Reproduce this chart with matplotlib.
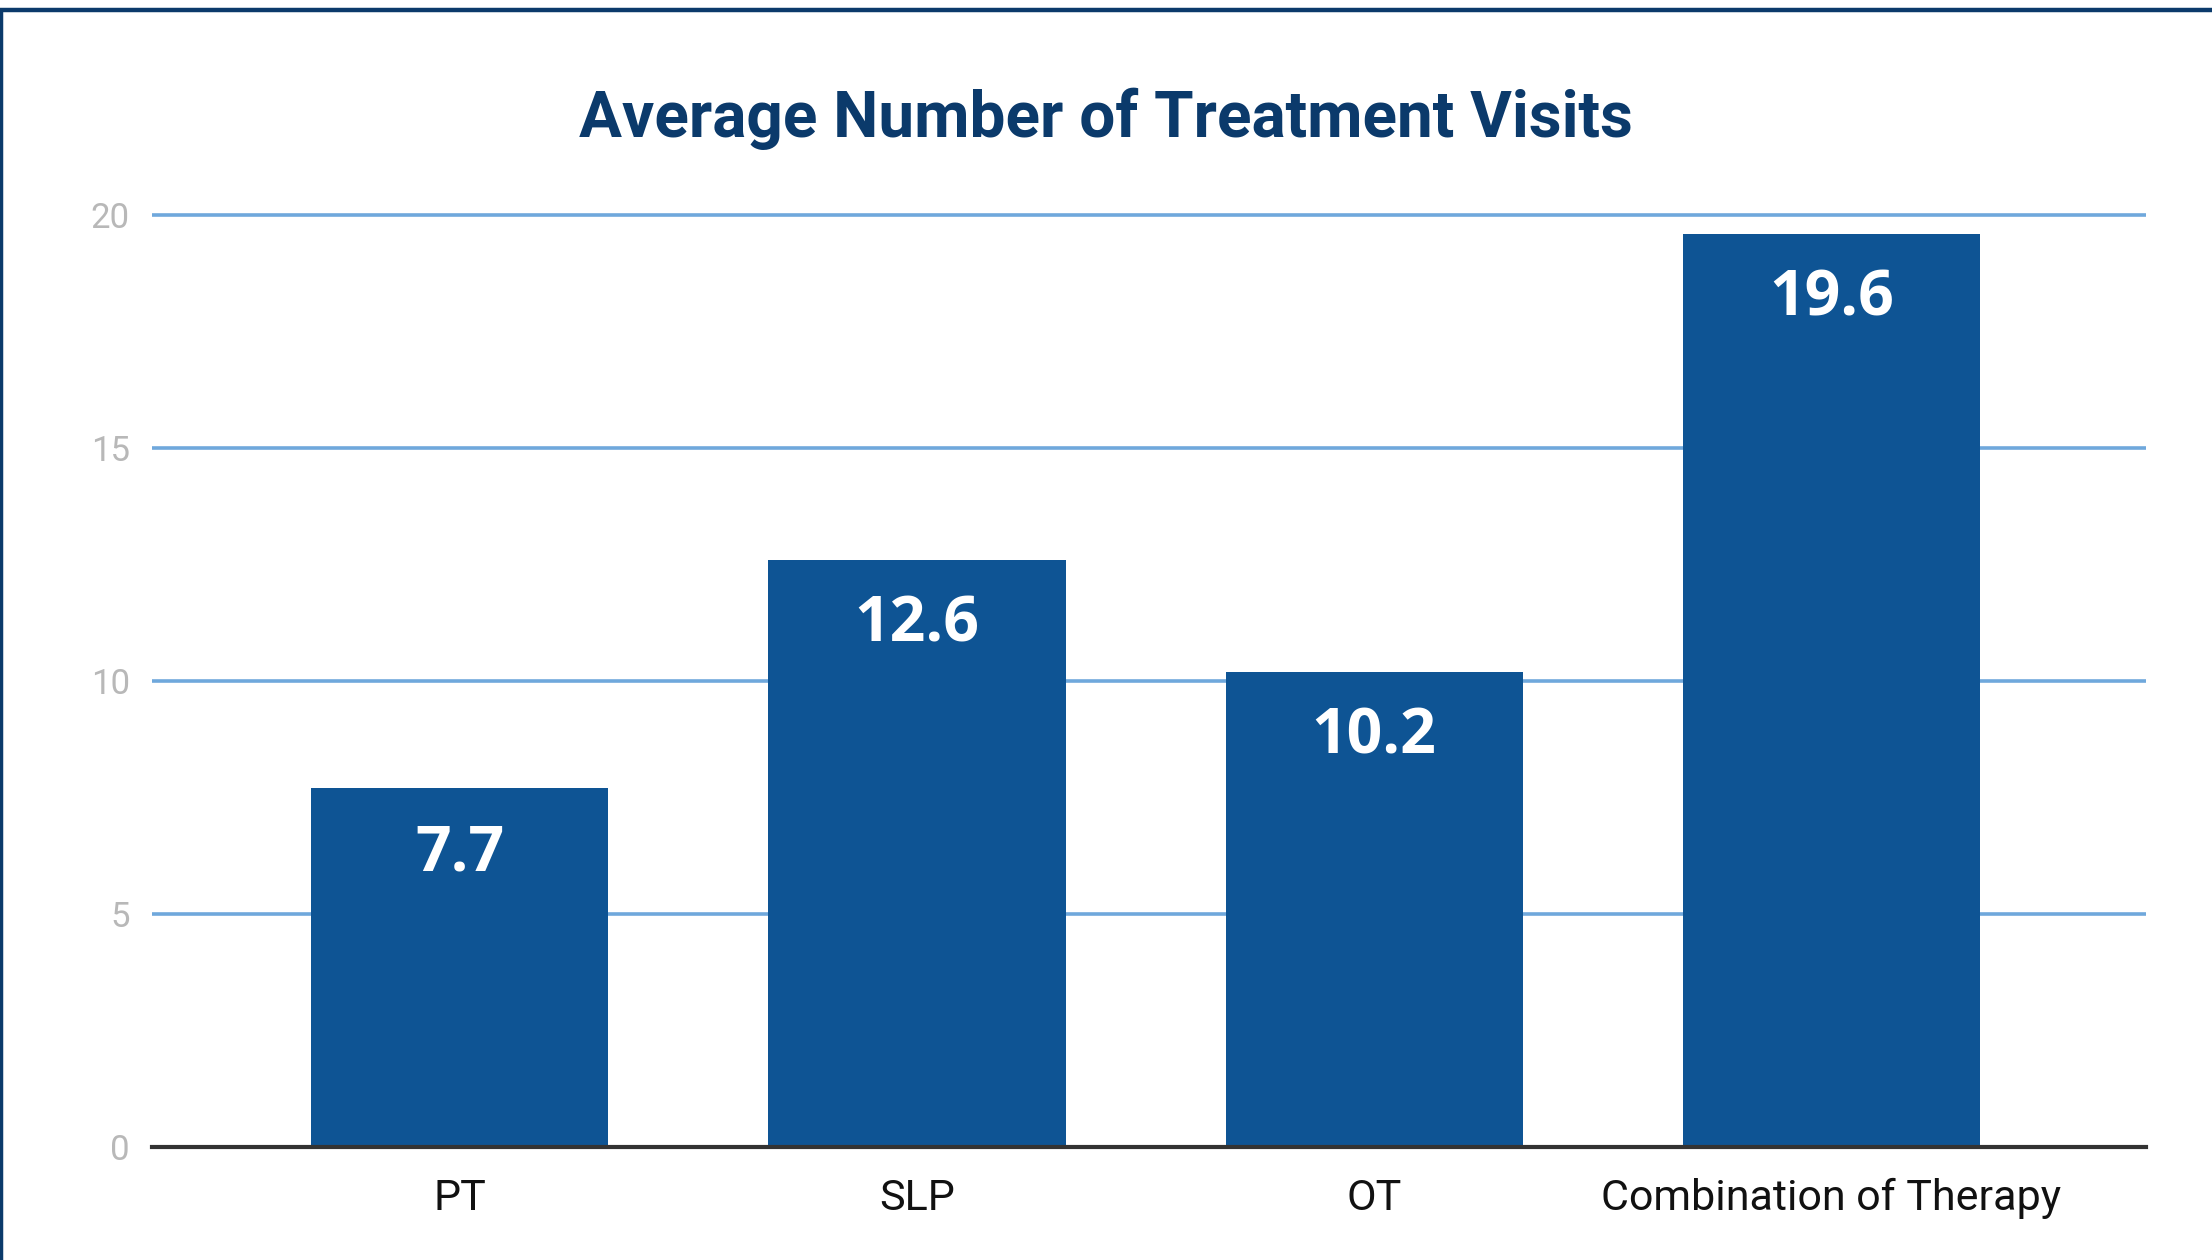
import matplotlib.pyplot as plt
from matplotlib.lines import Line2D

categories = ['PT', 'SLP', 'OT', 'Combination of Therapy']
visits = [7.7, 12.6, 10.2, 19.6]
yticks = [0, 5, 10, 15, 20]

bar_color = '#0e5494'
navy = '#0b3a6b'

fig = plt.figure(figsize=(22.12, 12.6), dpi=100)
ax = fig.add_axes([0.0687, 0.0897, 0.9015, 0.7579])

x = list(range(len(categories)))
bars = ax.bar(x, visits, width=0.65, color=bar_color, zorder=3)

for b, v in zip(bars, visits):
    ax.annotate(f'{v:.1f}', (b.get_x() + b.get_width() / 2, v),
                xytext=(0, -47), textcoords='offset points',
                ha='center', va='center', color='white',
                fontsize=45, fontweight='bold', family='Open Sans', zorder=4)

ax.set_xlim(-0.673, 3.688)
ax.set_ylim(0, 20.5)
ax.set_yticks(yticks)
ax.set_xticks(x)
ax.set_xticklabels(categories, fontsize=31, family='Roboto', color='#111111')
ax.tick_params(axis='x', length=0, pad=22)
ax.tick_params(axis='y', length=0, pad=16, labelsize=25, labelcolor='#b8b8b8')
for lab in ax.get_yticklabels():
    lab.set_family('Roboto')

ax.yaxis.grid(True, color='#6fa8dc', linewidth=2.6, zorder=0)
ax.set_axisbelow(True)
for s in ['top', 'right', 'left']:
    ax.spines[s].set_visible(False)
ax.spines['bottom'].set_color('#333333')
ax.spines['bottom'].set_linewidth(3)
ax.spines['bottom'].set_zorder(5)

fig.text(0.5, 0.906, 'Average Number of Treatment Visits', ha='center', va='center',
         fontsize=46, fontweight='bold', family='Roboto', color=navy)

# frame around the chart (top and left edges visible)
fig.add_artist(Line2D([0, 1], [1 - 10 / 1260] * 2, color=navy, linewidth=3.2))
fig.add_artist(Line2D([1 / 2212] * 2, [0, 1 - 10 / 1260], color=navy, linewidth=2.5))

fig.savefig('out.png', dpi=100, facecolor='white')
